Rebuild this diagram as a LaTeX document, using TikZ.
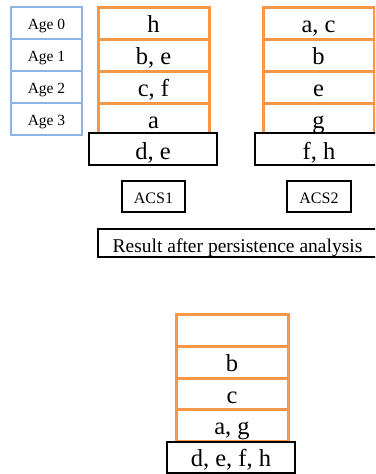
\documentclass[tikz,border=0pt]{standalone}
\usepackage{fontspec}
\setmainfont{Liberation Serif}
\definecolor{corange}{RGB}{247,150,70}
\definecolor{cblue}{RGB}{141,180,226}
\begin{document}
\begin{tikzpicture}[x=1pt,y=-1pt,
  agebox/.style={draw=cblue,line width=2.8pt,minimum width=71pt,minimum height=32pt,inner sep=0pt,
    text height=22pt,text depth=10pt,font=\fontsize{15.5}{16}\selectfont},
  cellbox/.style={draw=corange,line width=3pt,minimum width=111pt,minimum height=32pt,inner sep=0pt,
    text height=25pt,text depth=7pt,font=\fontsize{24.5}{25}\selectfont},
  blackbox/.style={draw=black,line width=2.7pt,fill=white,minimum width=128pt,minimum height=32pt,inner sep=0pt,
    text height=26pt,text depth=6pt,font=\fontsize{24.5}{25}\selectfont},
  acsbox/.style={draw=black,line width=2.7pt,minimum width=63pt,minimum height=31pt,inner sep=0pt,
    text height=22pt,text depth=9pt,font=\fontsize{16}{17}\selectfont},
  resbox/.style={draw=black,line width=2.7pt,minimum width=279pt,minimum height=28pt,inner sep=0pt,
    text height=23pt,text depth=5pt,font=\fontsize{19.5}{20}\selectfont}
]
\useasboundingbox (0,0) rectangle (375,474);
\clip (0,0) rectangle (375,474);
% age column
\node[agebox] (age0) at (46.5,23) {Age 0};
\node[agebox] (age1) at (46.5,55) {Age 1};
\node[agebox] (age2) at (46.5,87) {Age 2};
\node[agebox] (age3) at (46.5,119) {Age 3};
% stack 1
\node[cellbox] (s1a) at (153.5,23) {h};
\node[cellbox] (s1b) at (153.5,55) {b, e};
\node[cellbox] (s1c) at (153.5,87) {c, f};
\node[cellbox] (s1d) at (153.5,119) {a};
\node[blackbox] (s1e) at (153,149) {d, e};
\node[acsbox] (acs1) at (153.5,196.5) {ACS1};
% stack 2
\node[cellbox] (s2a) at (318.5,23) {a, c};
\node[cellbox] (s2b) at (318.5,55) {b};
\node[cellbox] (s2c) at (318.5,87) {e};
\node[cellbox] (s2d) at (318.5,119) {g};
\node[blackbox] (s2e) at (319,149) {f, h};
\node[acsbox,minimum width=64pt] (acs2) at (319,196.5) {ACS2};
% result
\node[resbox] (res) at (237.5,243) {Result after persistence analysis};
% result stack
\node[cellbox,minimum width=112pt] (r1) at (232,330) {};
\node[cellbox,minimum width=112pt] (r2) at (232,362) {b};
\node[cellbox,minimum width=112pt,minimum height=31pt,text depth=6pt] (r3) at (232,393.5) {c};
\node[cellbox,minimum width=112pt] (r4) at (232,425) {a, g};
\node[blackbox,minimum height=31pt,text height=24pt,text depth=7pt] (r5) at (231,457.5) {d, e, f, h};
\end{tikzpicture}
\end{document}
